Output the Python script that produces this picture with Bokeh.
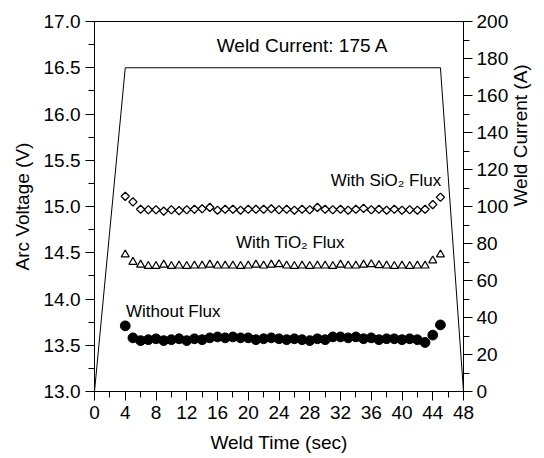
from bokeh.plotting import figure
from bokeh.models import Range1d, LinearAxis, SingleIntervalTicker, PrintfTickFormatter, Label
from bokeh.embed import file_html
from bokeh.resources import INLINE

# Arc voltage samples taken once per second during the weld
weld_time = list(range(4, 46))

sio2_voltage = [15.11, 15.05, 14.97, 14.965, 14.965, 14.95, 14.965, 14.955, 14.965, 14.97,
                14.975, 14.99, 14.96, 14.97, 14.97, 14.96, 14.97, 14.97, 14.97, 14.975,
                14.965, 14.97, 14.96, 14.97, 14.965, 14.99, 14.97, 14.965, 14.97, 14.96,
                14.97, 14.98, 14.965, 14.97, 14.96, 14.97, 14.96, 14.965, 14.96, 14.97,
                15.02, 15.10]

tio2_voltage = [14.48, 14.40, 14.37, 14.355, 14.355, 14.37, 14.355, 14.36, 14.355, 14.36,
                14.36, 14.37, 14.36, 14.36, 14.36, 14.355, 14.36, 14.37, 14.36, 14.37,
                14.375, 14.36, 14.355, 14.36, 14.355, 14.36, 14.36, 14.355, 14.37, 14.36,
                14.36, 14.37, 14.375, 14.365, 14.36, 14.355, 14.36, 14.355, 14.36, 14.36,
                14.415, 14.48]

no_flux_voltage = [13.71, 13.58, 13.55, 13.56, 13.57, 13.55, 13.56, 13.57, 13.55, 13.57,
                   13.56, 13.58, 13.59, 13.58, 13.59, 13.58, 13.58, 13.56, 13.57, 13.58,
                   13.57, 13.56, 13.57, 13.56, 13.55, 13.57, 13.56, 13.59, 13.59, 13.58,
                   13.59, 13.57, 13.58, 13.56, 13.57, 13.57, 13.56, 13.57, 13.56, 13.53,
                   13.61, 13.72]

# Programmed weld current: ramp up, hold, ramp down
current_time = [0, 4, 45, 48]
current_amps = [0, 175, 175, 0]

FONT = "Liberation Sans"

p = figure(width=544, height=458, output_backend="svg", toolbar_location=None,
           x_range=Range1d(0, 48), y_range=Range1d(13, 17),
           min_border_left=94, min_border_right=77, min_border_top=21, min_border_bottom=67)
p.extra_y_ranges = {"amps": Range1d(0, 200)}

p.xgrid.visible = False
p.ygrid.visible = False
p.outline_line_color = "black"
p.outline_line_width = 1
p.background_fill_color = "white"
p.border_fill_color = "white"


def style_axis(ax):
    ax.axis_line_color = "black"
    ax.axis_line_width = 1
    ax.major_tick_line_color = "black"
    ax.major_tick_line_width = 1
    ax.minor_tick_line_color = "black"
    ax.minor_tick_line_width = 1
    ax.major_tick_in = 0
    ax.major_tick_out = 9
    ax.minor_tick_in = 0
    ax.minor_tick_out = 6
    ax.major_label_text_font = FONT
    ax.major_label_text_font_size = "19px"
    ax.major_label_text_color = "black"
    ax.axis_label_text_font = FONT
    ax.axis_label_text_font_size = "19px"
    ax.axis_label_text_font_style = "normal"
    ax.axis_label_text_color = "black"


xax = p.xaxis[0]
xax.ticker = SingleIntervalTicker(interval=4, num_minor_ticks=2)
xax.axis_label = "Weld Time (sec)"
xax.major_label_standoff = 5
xax.axis_label_standoff = 10
style_axis(xax)

yax = p.yaxis[0]
yax.ticker = SingleIntervalTicker(interval=0.5, num_minor_ticks=2)
yax.formatter = PrintfTickFormatter(format="%.1f")
yax.axis_label = "Arc Voltage (V)"
yax.major_label_standoff = 5
yax.axis_label_standoff = 8
style_axis(yax)

# Right-hand current scale; its title reads bottom to top like the left one
rax = LinearAxis(y_range_name="amps",
                 ticker=SingleIntervalTicker(interval=20, num_minor_ticks=2),
                 axis_label="Weld Current (A)")
rax.major_label_standoff = 4
rax.axis_label_standoff = 9
rax.axis_label_orientation = 1.5707963
style_axis(rax)
rax.axis_label_text_baseline = "top"
p.add_layout(rax, "right")

# Current profile on the right-hand scale
p.line(current_time, current_amps, y_range_name="amps", line_color="black", line_width=1)

# Voltage series
p.scatter(weld_time, sio2_voltage, marker="square", size=5.8, angle=0.785398,
          fill_color="white", line_color="black", line_width=1.3)
p.scatter(weld_time, tio2_voltage, marker="triangle", size=8,
          fill_color="white", line_color="black", line_width=1.2)
p.scatter(weld_time, no_flux_voltage, marker="circle", size=9.8,
          fill_color="black", line_color="black", line_width=1)

labels = [
    ("Weld Current: 175 A", 15.9, 16.74, "left", "19px"),
    ("With SiO\u2082 Flux", 45.1, 15.28, "right", "17px"),
    ("With TiO\u2082 Flux", 18.4, 14.61, "left", "17px"),
    ("Without Flux", 4.1, 13.87, "left", "17px"),
]
for txt, lx, ly, align, fs in labels:
    p.add_layout(Label(x=lx, y=ly, text=txt, text_align=align, text_baseline="middle",
                       text_font=FONT, text_font_size=fs, text_color="black"))

open("out.html", "w").write(file_html(p, INLINE))
